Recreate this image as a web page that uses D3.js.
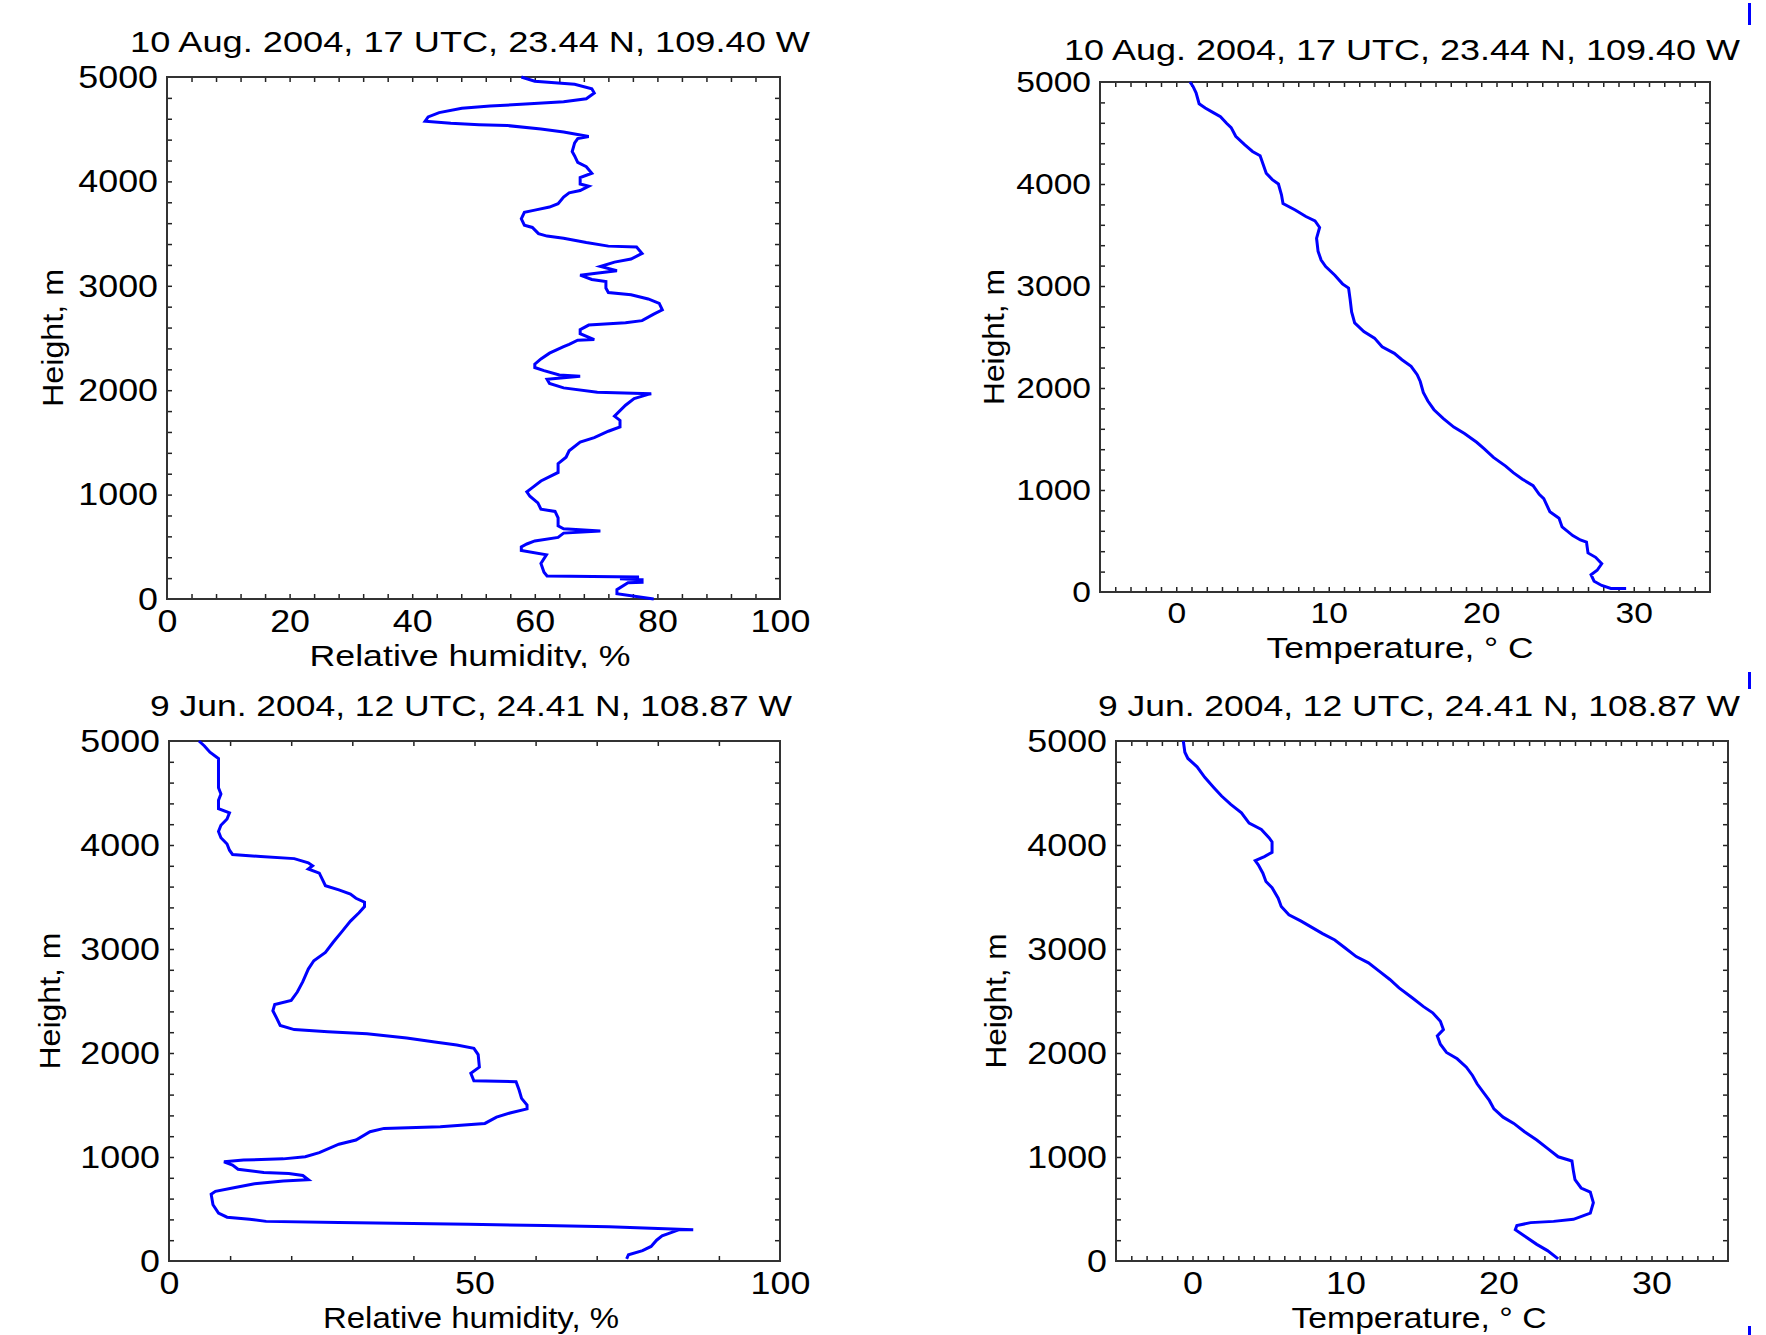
<!DOCTYPE html>
<html>
<head>
<meta charset="utf-8">
<script src="https://cdn.jsdelivr.net/npm/d3@7"></script>
<style>
  body { margin: 0; background: #fff; }
  text { font-family: "Liberation Sans", Arial, sans-serif; fill: #000; }
</style>
</head>
<body>
<svg id="chart" width="1766" height="1335"></svg>
<script>
// profiles: [value, height in m]
const rhAug = [[79.4,0],[73.4,50],[73.4,90],[75.2,155],[77.5,160],[77.5,185],[73.9,195],[77,210],[62,220],[61.5,257],[61,340],[61.9,424],[57.8,465],[57.8,500],[58.7,527],[60,556],[63.8,590],[64.7,631],[70.7,652],[64.7,673],[63.8,700],[63.8,777],[63.3,839],[61,860],[60.5,920],[59.2,984],[58.7,1026],[59.6,1067],[61,1130],[63.8,1212],[63.8,1296],[65.1,1358],[65.6,1420],[67.4,1503],[69.7,1545],[72,1607],[73.9,1649],[73.9,1711],[73,1752],[74.8,1856],[76.2,1919],[78.5,1960],[79,1965],[70.2,1981],[64.7,2022],[62.4,2064],[62,2105],[67.4,2134],[64,2145],[61.5,2188],[60,2217],[60,2250],[61,2300],[62.4,2355],[64.7,2417],[65.6,2440],[67,2479],[69.7,2485],[67.4,2541],[67.4,2580],[68.8,2624],[74.8,2645],[77.5,2666],[79.4,2728],[80.8,2770],[80.3,2832],[78.5,2874],[75.7,2915],[72,2936],[71.6,2978],[71.6,3040],[69.3,3061],[67.4,3102],[70,3120],[73.4,3144],[70.7,3185],[73,3227],[75.7,3256],[77.5,3310],[76.6,3372],[72,3380],[68.4,3414],[64.7,3455],[62,3476],[60.6,3500],[59.6,3559],[58.3,3580],[57.8,3642],[58.3,3704],[60,3725],[62.4,3754],[63.8,3787],[64.7,3850],[65.6,3891],[67.4,3912],[68.8,3954],[67.4,3975],[67.4,4037],[69.3,4078],[68.4,4140],[67,4182],[66.5,4244],[66.1,4286],[66.5,4369],[67,4410],[68.8,4431],[64.7,4473],[61,4502],[55.5,4535],[50.9,4543],[46.3,4556],[42.1,4576],[42.6,4618],[44.4,4659],[48.1,4701],[52.7,4722],[59.2,4743],[64.7,4763],[68.4,4792],[69.7,4846],[69.3,4888],[66.5,4930],[60,4959],[58.7,4983],[57.8,5000]];

const tAug = [[29.5,34],[28.5,34],[27.9,64],[27.4,106],[27.2,170],[27.6,213],[27.9,277],[27.5,340],[27,383],[26.9,489],[26.5,510],[26,553],[25.3,638],[25.1,723],[24.5,787],[24.1,915],[23.8,957],[23.4,1043],[22.7,1106],[22.1,1170],[21.6,1234],[20.8,1319],[20.2,1404],[19.7,1468],[18.9,1553],[18.2,1617],[17.5,1702],[16.9,1787],[16.5,1872],[16.2,1957],[16,2064],[15.8,2130],[15.4,2213],[14.8,2277],[14.3,2340],[13.5,2404],[13,2489],[12.3,2553],[11.7,2638],[11.5,2745],[11.4,2872],[11.3,2979],[10.9,3021],[10.4,3106],[9.8,3191],[9.5,3255],[9.3,3340],[9.2,3468],[9.4,3574],[9.1,3638],[8.5,3681],[7.8,3745],[7,3809],[6.9,3894],[6.7,4000],[6.3,4043],[5.9,4106],[5.7,4191],[5.5,4277],[5,4319],[4.5,4383],[3.9,4468],[3.6,4553],[3.3,4596],[2.9,4660],[2.4,4702],[1.9,4745],[1.5,4787],[1.3,4894],[1.1,4957],[0.9,5000]];

const rhJun = [[74.9,20],[75.2,60],[77.5,100],[78.9,140],[79.8,200],[80.7,241],[81.6,261],[83.5,301],[85.8,301],[72,329],[61.4,341],[49,353],[27.8,369],[15.9,381],[13.2,401],[9.5,421],[8.1,461],[7.2,541],[6.9,642],[7.6,670],[10.4,702],[14,742],[18.7,770],[22.8,782],[21.9,822],[19.6,842],[15.5,850],[11.3,882],[10.4,922],[9,954],[12.2,970],[18.7,982],[22.3,1002],[24.6,1042],[27.8,1123],[30.6,1163],[32.9,1243],[35.2,1275],[44.4,1291],[51.7,1323],[53.6,1383],[55.8,1423],[58.6,1463],[58.6,1500],[57.7,1564],[57.3,1644],[56.8,1724],[49.9,1732],[49.4,1804],[50.8,1864],[50.6,1985],[49.9,2045],[47.1,2077],[43.5,2105],[38.9,2145],[32.4,2185],[26,2205],[20.5,2225],[18.2,2265],[17.7,2326],[17,2406],[17.3,2466],[20,2506],[21,2586],[21.9,2686],[22.8,2807],[23.7,2887],[25.6,2967],[26.9,3067],[28.3,3167],[29.7,3268],[31.1,3348],[32,3408],[32,3450],[30.6,3488],[29.7,3528],[27.8,3568],[25.6,3609],[25.1,3669],[24.6,3729],[22.8,3769],[23.5,3800],[22.8,3829],[20.5,3869],[15,3889],[10.4,3909],[9.9,3950],[9.5,4010],[8.5,4070],[8.1,4130],[8.5,4190],[9.5,4250],[9.9,4310],[8.1,4350],[8.1,4430],[8.5,4491],[8.1,4551],[8.1,4832],[6.7,4892],[5.8,4952],[4.9,5000]];

const tJun = [[23.9,20],[23.2,100],[22.5,160],[21.7,241],[21.1,301],[21.2,341],[22.1,369],[23.6,381],[24.9,401],[26,461],[26.2,561],[26,662],[25.4,702],[25,782],[24.9,862],[24.8,962],[23.9,1002],[23.2,1083],[22.5,1163],[21.7,1243],[21,1323],[20.3,1383],[19.7,1463],[19.4,1544],[19,1624],[18.6,1704],[18.3,1784],[17.9,1864],[17.3,1944],[16.6,2005],[16.2,2085],[16,2165],[16.4,2225],[16.2,2306],[15.7,2386],[15.1,2446],[14.4,2526],[13.5,2626],[12.9,2707],[12.2,2787],[11.5,2867],[10.7,2927],[10,3007],[9.3,3087],[8.5,3148],[7.8,3208],[7.1,3268],[6.3,3328],[5.8,3408],[5.6,3488],[5.2,3589],[4.8,3649],[4.6,3729],[4.3,3809],[4.1,3849],[4.7,3889],[5.2,3929],[5.2,4030],[5,4070],[4.5,4150],[3.7,4210],[3.2,4310],[2.5,4390],[1.9,4471],[1.4,4551],[0.8,4651],[0.3,4752],[-0.3,4832],[-0.5,4892],[-0.6,5000]];

const heightTicks = [0, 1000, 2000, 3000, 4000, 5000];
const rhTicksAug = [0, 20, 40, 60, 80, 100];
const rhTicksJun = [0, 50, 100];
const tempTicks = [0, 10, 20, 30];

const titleAug = "10 Aug. 2004, 17 UTC, 23.44 N, 109.40 W";
const titleJun = "9 Jun. 2004, 12 UTC, 24.41 N, 108.87 W";

const svg = d3.select("#chart");

const panels = [
  {data: rhAug, x0: 167, y0: 77, w: 613, h: 522, xDom: [0, 100], xTicks: rhTicksAug, xMinor: 4, font: 32,
   title: titleAug, titleX: 470, titleY: 52, titleLen: 680,
   xlab: "Relative humidity, %", xlabX: 470, xlabY: 666, xlabLen: 321, clipBottom: 668,
   ylabX: 52, ylabLen: 138},
  {data: tAug, x0: 1100, y0: 82, w: 610, h: 510, xDom: [-5, 35], xTicks: tempTicks, xMinor: 1, font: 30,
   title: titleAug, titleX: 1402, titleY: 60, titleLen: 676,
   xlab: "Temperature, \u00b0 C", xlabX: 1400, xlabY: 658, xlabLen: 267, clipBottom: 1335,
   ylabX: 993, ylabLen: 136},
  {data: rhJun, x0: 169, y0: 741, w: 611, h: 520, xDom: [0, 100], xTicks: rhTicksJun, xMinor: 10, font: 32,
   title: titleJun, titleX: 471, titleY: 716, titleLen: 642,
   xlab: "Relative humidity, %", xlabX: 471, xlabY: 1328, xlabLen: 296, clipBottom: 1335,
   ylabX: 49, ylabLen: 137},
  {data: tJun, x0: 1116, y0: 741, w: 612, h: 520, xDom: [-5, 35], xTicks: tempTicks, xMinor: 1, font: 32,
   title: titleJun, titleX: 1419, titleY: 716, titleLen: 642,
   xlab: "Temperature, \u00b0 C", xlabX: 1419, xlabY: 1328, xlabLen: 255, clipBottom: 1335,
   ylabX: 995, ylabLen: 135}
];

const stretch = 1.12;

panels.forEach((p, i) => {
  const x = d3.scaleLinear().domain(p.xDom).range([0, p.w]);
  const y = d3.scaleLinear().domain([0, 5000]).range([p.h, 0]);

  svg.append("clipPath").attr("id", "clip" + i)
    .append("rect").attr("x", 0).attr("y", 0).attr("width", 1766).attr("height", p.clipBottom);

  const outer = svg.append("g").attr("clip-path", `url(#clip${i})`);
  const g = outer.append("g").attr("transform", `translate(${p.x0},${p.y0})`);

  const xMinor = d3.range(p.xDom[0], p.xDom[1] + 0.001, p.xMinor).filter(v => v > p.xDom[0] && v < p.xDom[1]);
  const yMinor = d3.range(200, 5000, 200);

  // inward tick marks on all four sides
  const tk = 5;
  g.append("g").attr("transform", `translate(0,${p.h})`)
    .call(d3.axisBottom(x).tickValues(xMinor).tickSize(-tk).tickFormat(""));
  g.append("g")
    .call(d3.axisTop(x).tickValues(xMinor).tickSize(-tk).tickFormat(""));
  g.append("g")
    .call(d3.axisLeft(y).tickValues(yMinor).tickSize(-tk).tickFormat(""));
  g.append("g").attr("transform", `translate(${p.w},0)`)
    .call(d3.axisRight(y).tickValues(yMinor).tickSize(-tk).tickFormat(""));
  g.selectAll(".domain").remove();
  g.selectAll(".tick line").attr("stroke", "#222").attr("stroke-width", 1.5);

  // labels
  const xAxis = g.append("g").attr("transform", `translate(0,${p.h})`)
    .call(d3.axisBottom(x).tickValues(p.xTicks).tickSize(0).tickPadding(10).tickFormat(d3.format("d")));
  const yAxis = g.append("g")
    .call(d3.axisLeft(y).tickValues(heightTicks).tickSize(0).tickPadding(8).tickFormat(d3.format("d")));
  [xAxis, yAxis].forEach(a => {
    a.select(".domain").remove();
    a.selectAll("text")
      .attr("font-size", p.font)
      .attr("font-family", "Liberation Sans, Arial, sans-serif")
      .attr("fill", "#000")
      .attr("transform", `scale(${stretch},1)`);
  });

  g.append("rect")
    .attr("width", p.w).attr("height", p.h)
    .attr("fill", "none").attr("stroke", "#333").attr("stroke-width", 2);

  const line = d3.line().x(d => x(d[0])).y(d => y(d[1]));
  g.append("path").datum(p.data)
    .attr("d", line)
    .attr("fill", "none")
    .attr("stroke", "#0000ff")
    .attr("stroke-width", 3)
    .attr("stroke-linejoin", "miter");

  outer.append("text")
    .attr("x", p.titleX).attr("y", p.titleY)
    .attr("text-anchor", "middle")
    .attr("font-size", 30)
    .attr("textLength", p.titleLen).attr("lengthAdjust", "spacingAndGlyphs")
    .text(p.title);

  outer.append("text")
    .attr("x", p.xlabX).attr("y", p.xlabY)
    .attr("text-anchor", "middle")
    .attr("font-size", 30)
    .attr("textLength", p.xlabLen).attr("lengthAdjust", "spacingAndGlyphs")
    .text(p.xlab);

  const cy = p.y0 + p.h / 2;
  outer.append("text")
    .attr("transform", `translate(${p.ylabX},${cy}) rotate(-90)`)
    .attr("text-anchor", "middle")
    .attr("dy", "0.35em")
    .attr("font-size", 30)
    .attr("textLength", p.ylabLen).attr("lengthAdjust", "spacingAndGlyphs")
    .text("Height, m");
});

// small blue slide-edge marks at the right border
const edgeMarks = [[3, 25], [672, 689], [1326, 1335]];
svg.selectAll("rect.edge").data(edgeMarks).enter().append("rect")
  .attr("class", "edge")
  .attr("x", 1748).attr("width", 3)
  .attr("y", d => d[0]).attr("height", d => d[1] - d[0])
  .attr("fill", "#0000ff");
</script>
</body>
</html>
